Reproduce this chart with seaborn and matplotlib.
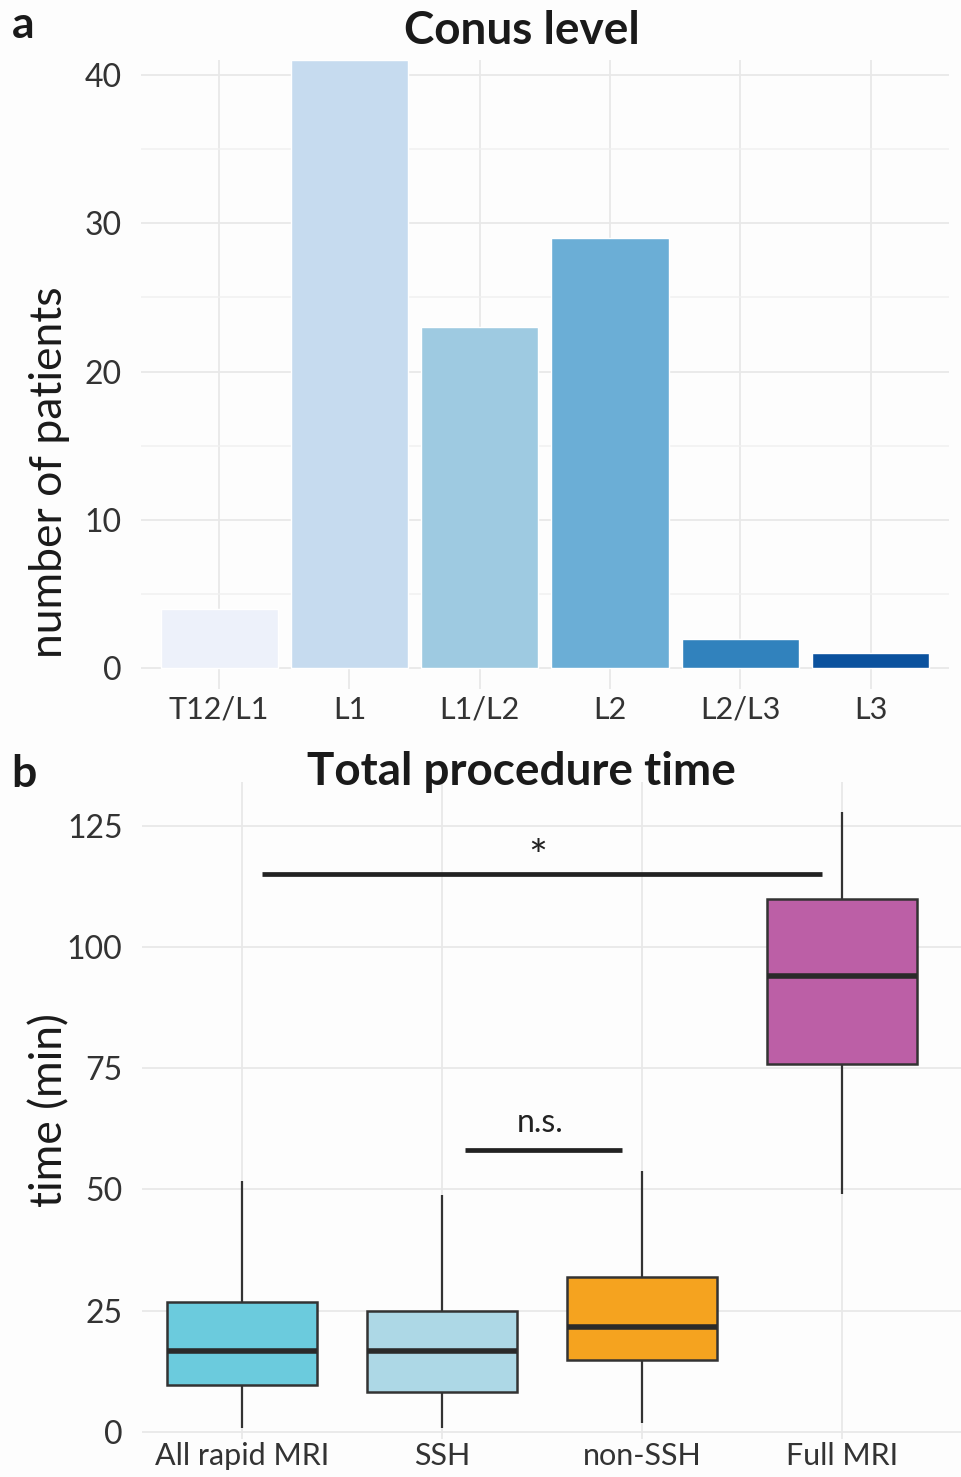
import numpy as np
import pandas as pd
import matplotlib
matplotlib.use("Agg")
import matplotlib.pyplot as plt
from matplotlib.ticker import MultipleLocator
import seaborn as sns

# panel a: conus level counts
levels = ["T12/L1", "L1", "L1/L2", "L2", "L2/L3", "L3"]
patients = [4, 41, 23, 29, 2, 1]
level_colors = ["#EDF1FA", "#C6DBEF", "#9ECAE1", "#6BAED6", "#3182BD", "#0B529E"]

# panel b: five-number summaries (min, q1, median, q3, max)
groups = ["All rapid MRI", "SSH", "non-SSH", "Full MRI"]
all_rapid = [0.8, 9.7, 16.7, 26.7, 51.7]
ssh = [0.8, 8.3, 16.7, 24.8, 48.8]
non_ssh = [1.9, 14.7, 21.7, 32.0, 53.7]
full_mri = [49.0, 75.8, 94.0, 109.9, 127.7]
group_colors = ["#6BCBDD", "#ADD8E6", "#F5A31F", "#BC5FA6"]

sns.set_theme(style="whitegrid")
plt.rcParams["font.family"] = ["Lato", "DejaVu Sans"]
plt.rcParams["axes.facecolor"] = "#FDFDFD"
plt.rcParams["figure.facecolor"] = "#FDFDFD"

fig = plt.figure(figsize=(9.61, 14.77), dpi=100)
ax_a = fig.add_axes([0.1467, 0.5335, 0.8408, 0.4259])
ax_b = fig.add_axes([0.1478, 0.0257, 0.853, 0.4449])

# --- panel a ---
sns.barplot(x=levels, y=patients, hue=levels, palette=level_colors, width=0.9,
            saturation=1, legend=False, ax=ax_a)
ax_a.set_xlim(-0.6, 5.6)
ax_a.set_ylim(-1.4, 41.0)
ax_a.set_yticks([0, 10, 20, 30, 40])
ax_a.yaxis.set_minor_locator(MultipleLocator(5))
ax_a.set_xlabel("")
ax_a.set_ylabel("")

# --- panel b ---
df = pd.DataFrame({
    "group": np.repeat(groups, 5),
    "time": all_rapid + ssh + non_ssh + full_mri,
})
sns.boxplot(data=df, x="group", y="time", hue="group", palette=group_colors,
            whis=np.inf, width=0.75, saturation=1, linewidth=1.8,
            linecolor="#333333", showcaps=False, legend=False,
            medianprops=dict(linewidth=4, color="#2A2A2A"),
            whiskerprops=dict(linewidth=1.6), ax=ax_b)
ax_b.set_xlim(-0.5, 3.6)
ax_b.set_ylim(-1.5, 134)
ax_b.set_yticks([0, 25, 50, 75, 100, 125])
ax_b.set_xlabel("")
ax_b.set_ylabel("")

# significance bars
ax_b.plot([0.1, 2.9], [115, 115], color="#222222", linewidth=3.4, solid_capstyle="butt")
ax_b.text(1.48, 114.0, "*", ha="center", va="bottom", fontsize=32, color="#222222")
ax_b.plot([1.115, 1.9], [58, 58], color="#222222", linewidth=3.4, solid_capstyle="butt")
ax_b.text(1.49, 60.5, "n.s.", ha="center", va="bottom", fontsize=23, color="#222222")

for ax in (ax_a, ax_b):
    for s in ax.spines.values():
        s.set_visible(False)
    ax.tick_params(axis="y", length=0, labelsize=23, labelcolor="#333333", pad=14)
    ax.xaxis.grid(True, which="major", color="#E8E8E8", linewidth=1.3)
    ax.yaxis.grid(True, which="major", color="#E8E8E8", linewidth=1.3)
    ax.set_axisbelow(True)
ax_a.tick_params(axis="x", length=0, labelsize=22, labelcolor="#333333", pad=5)
ax_b.tick_params(axis="x", length=0, labelsize=22, labelcolor="#333333", pad=2)
ax_a.yaxis.grid(True, which="minor", color="#F0F0F0", linewidth=1.1)

# titles, panel letters, y labels
fig.text(0.543, 0.979, "Conus level", ha="center", va="center", fontsize=33,
         fontweight="bold", color="#1A1A1A")
fig.text(0.543, 0.477, "Total procedure time", ha="center", va="center", fontsize=33,
         fontweight="bold", color="#1A1A1A")
fig.text(0.012, 0.983, "a", ha="left", va="center", fontsize=32, fontweight="bold",
         color="#1A1A1A")
fig.text(0.012, 0.476, "b", ha="left", va="center", fontsize=32, fontweight="bold",
         color="#1A1A1A")
fig.text(0.052, 0.680, "number of patients", rotation=90, ha="center", va="center",
         fontsize=32, color="#1A1A1A")
fig.text(0.052, 0.2485, "time (min)", rotation=90, ha="center", va="center",
         fontsize=32, color="#1A1A1A")

fig.savefig("out.png", dpi=100)
